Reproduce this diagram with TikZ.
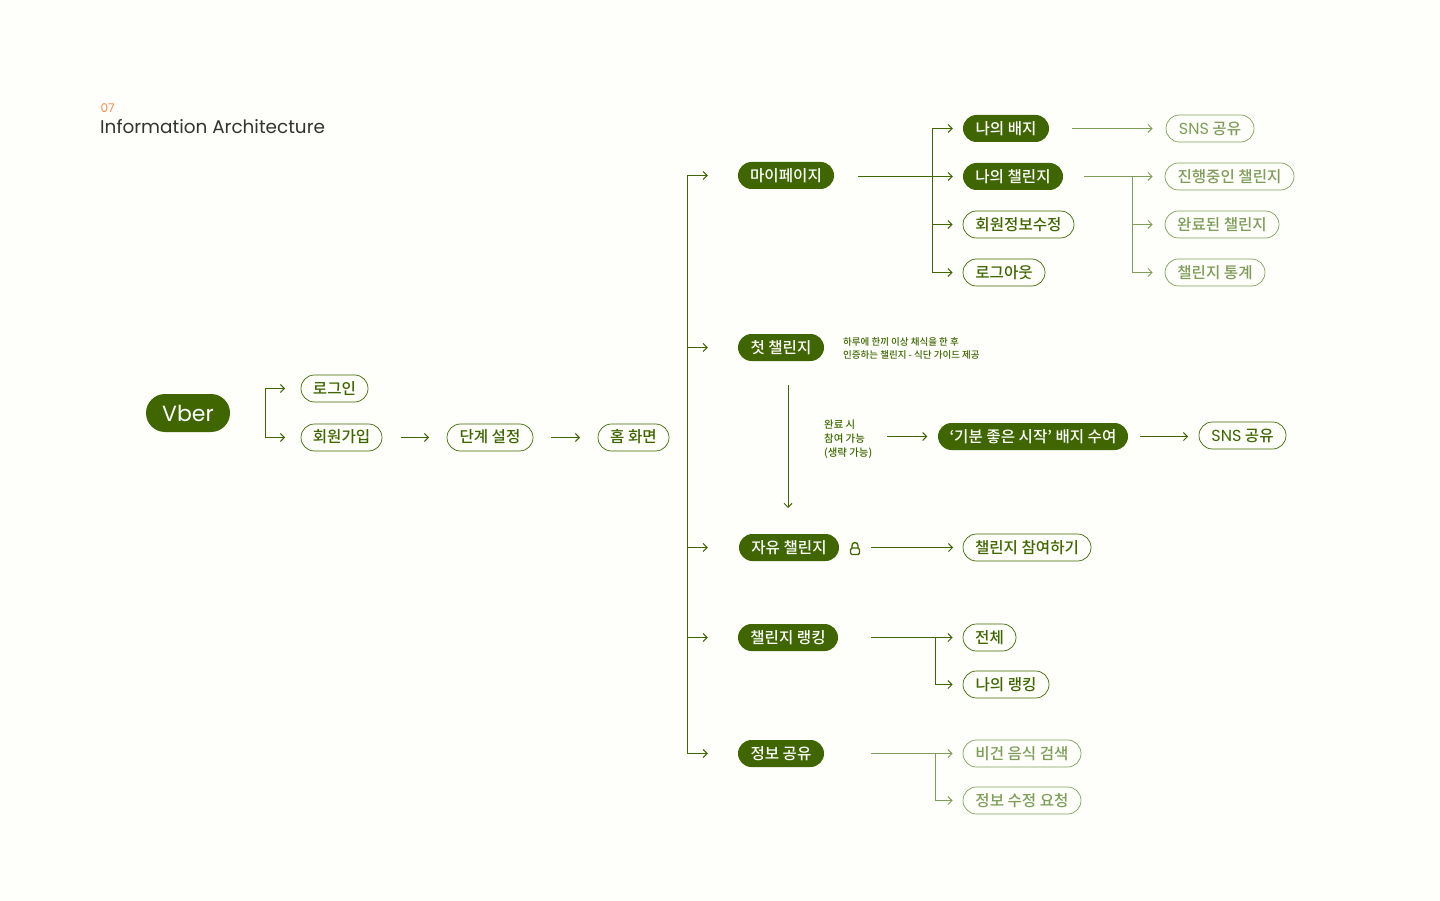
\documentclass[tikz,border=0pt]{standalone}
\usepackage{fontspec}
\usetikzlibrary{arrows.meta,shapes.misc}
\setmainfont{Noto Sans CJK KR}[UprightFont=* Medium]
\newfontfamily\latinf{Poppins}
\definecolor{bgc}{HTML}{FEFFFB}
\definecolor{grn}{HTML}{3F6600}
\definecolor{fade}{HTML}{7F9D59}
\definecolor{ink}{HTML}{333333}
\definecolor{orng}{HTML}{F5894F}
\tikzset{
  x=1pt,y=-1pt,
  pill/.style={rounded rectangle,inner sep=0pt,minimum height=27pt,text height=12pt,text depth=1pt,font=\fontsize{15.6}{16}\selectfont},
  low/.style={text height=14pt},
  high/.style={text height=11pt},
  solidpill/.style={pill,fill=grn,text=white},
  linepill/.style={pill,draw=grn,line width=.7pt,fill=bgc,text=grn},
  fadepill/.style={pill,draw=fade,line width=.7pt,fill=bgc,text=fade},
  conn/.style={draw=grn,line width=1pt,-{Straight Barb[length=4pt,width=8pt,line width=1pt]}},
  fconn/.style={conn,draw=fade},
  note/.style={text=grn,align=left,anchor=north west,inner sep=0pt},
}
\newcommand{\pillat}[6]{\node[#1,minimum width=#4-#3] (#2) at ({(#3+#4)/2},#5) {#6};}
\begin{document}
\begin{tikzpicture}
\useasboundingbox (0,0) rectangle (1440,901);
\fill[bgc] (0,0) rectangle (1440,901);

\node[anchor=west,inner sep=0pt,text=orng,font=\latinf\fontsize{12}{13}\selectfont] (num) at (100.5,108) {07};
\node[anchor=west,inner sep=0pt,text=ink,font=\latinf\fontsize{18.4}{20}\selectfont] (ttl) at (100,126.5) {Information Architecture};

\node[solidpill,minimum width=84pt,minimum height=38pt,text height=,text depth=,font=\latinf\fontsize{22}{24}\selectfont] (vber) at (188,413) {Vber};
\pillat{linepill}{login}{301}{368}{388.5}{로그인}
\pillat{linepill,high}{join}{301}{382}{437.5}{회원가입}
\pillat{linepill,high}{level}{447}{533}{437.5}{단계 설정}
\pillat{linepill,high}{home}{598}{669}{437.5}{홈 화면}

\pillat{solidpill,low}{my}{738}{834}{175.5}{마이페이지}
\pillat{solidpill}{first}{738}{824}{347.5}{첫 챌린지}
\pillat{solidpill}{free}{739}{839}{547.5}{자유 챌린지}
\pillat{solidpill}{rank}{738}{838}{637.5}{챌린지 랭킹}
\pillat{solidpill}{info}{738}{824}{753.5}{정보 공유}

\pillat{solidpill,low}{badge}{963}{1049}{128.5}{나의 배지}
\pillat{solidpill,low}{mych}{963}{1063}{176.5}{나의 챌린지}
\pillat{linepill,low}{edit}{963}{1074}{224.5}{회원정보수정}
\pillat{linepill,low}{logout}{963}{1045}{272.5}{로그아웃}

\pillat{fadepill,low}{sns}{1166}{1254}{128.5}{{\latinf\fontsize{16}{16}\selectfont SNS} 공유}
\pillat{fadepill,low}{ongoing}{1165}{1294}{176.5}{진행중인 챌린지}
\pillat{fadepill,low}{done}{1165}{1279}{224.5}{완료된 챌린지}
\pillat{fadepill,low}{stats}{1165}{1265}{272.5}{챌린지 통계}

\pillat{solidpill}{award}{938}{1128}{436.5}{‘기분 좋은 시작’ 배지 수여}
\pillat{linepill}{snsb}{1199}{1286}{435.5}{{\latinf\fontsize{16}{16}\selectfont SNS} 공유}
\pillat{linepill}{joinch}{963}{1091}{547.5}{챌린지 참여하기}
\pillat{linepill}{all}{963}{1016}{637.5}{전체}
\pillat{linepill}{myrank}{963}{1049}{684.5}{나의 랭킹}
\pillat{fadepill}{vegan}{963}{1081}{753.5}{비건 음식 검색}
\pillat{fadepill}{req}{963}{1081}{800.5}{정보 수정 요청}

\node[note,font=\fontsize{9.5}{13}\selectfont] (desc) at (843,337.5) {하루에 한끼 이상 채식을 한 후\\인증하는 챌린지 - 식단 가이드 제공};
\node[note,font=\fontsize{10.4}{14}\selectfont] (cond) at (824,419.5) {완료 시\\참여 가능\\(생략 가능)};

% lock icon
\draw[grn,line width=1.4pt,rounded corners=1.5pt] (850.5,548) rectangle (859.5,554.5);
\draw[grn,line width=1.4pt] (852,548) -- (852,545.5) arc[start angle=180,end angle=360,radius=3] -- (858,548);
\coordinate (lock) at (855,548);

% Vber branches
\coordinate (vb) at (265,412);
\draw[conn,shorten >=15.5pt] (vb) |- (login.west);
\draw[conn,shorten >=15.5pt] (vb) |- (join.west);
\draw[conn,shorten <=18.5pt,shorten >=17.5pt] (join.east) -- (level.west);
\draw[conn,shorten <=18pt,shorten >=17.5pt] (level.east) -- (home.west);

% main spine
\coordinate (ms) at (687.5,440);
\foreach \t in {my,first,rank,info}
  \draw[conn,shorten >=30pt] (ms) |- (\t.west);
\draw[conn,shorten >=31pt] (ms) |- (free.west);

% my page
\coordinate (mb) at (932.5,176.5);
\draw[conn,shorten <=24pt,shorten >=10pt] (my.east |- mb) -- (mych.west);
\draw[conn,shorten >=10pt] (mb) |- (badge.west);
\draw[conn,shorten >=10pt] (mb) |- (edit.west);
\draw[conn,shorten >=10pt] (mb) |- (logout.west);

% sns / my challenge
\draw[fconn,shorten <=23pt,shorten >=13pt] (badge.east) -- (sns.west);
\coordinate (cb) at (1132.5,176.5);
\draw[fconn,shorten <=21pt,shorten >=12pt] (mych.east) -- (ongoing.west);
\draw[fconn,shorten >=12pt] (cb) |- (done.west);
\draw[fconn,shorten >=12pt] (cb) |- (stats.west);

% first challenge
\draw[conn,shorten <=23.5pt,shorten >=26pt] (788,361) -- (788,534);
\coordinate (a1) at (887,436.5);
\draw[conn,shorten >=10.5pt] (a1) -- (award.west);
\draw[conn,shorten <=12pt,shorten >=10.5pt] (award.east) -- (award.east -| snsb.west);

% free
\draw[conn,shorten <=16pt,shorten >=9.5pt] (lock |- joinch.west) -- (joinch.west);

% rank
\coordinate (rb) at (935.5,637.5);
\draw[conn,shorten <=33pt,shorten >=10pt] (rank.east) -- (all.west);
\draw[conn,shorten >=10pt] (rb) |- (myrank.west);

% info
\coordinate (ib) at (935.5,753.5);
\draw[fconn,shorten <=47pt,shorten >=10pt] (info.east) -- (vegan.west);
\draw[fconn,shorten >=10pt] (ib) |- (req.west);
\end{tikzpicture}
\end{document}
